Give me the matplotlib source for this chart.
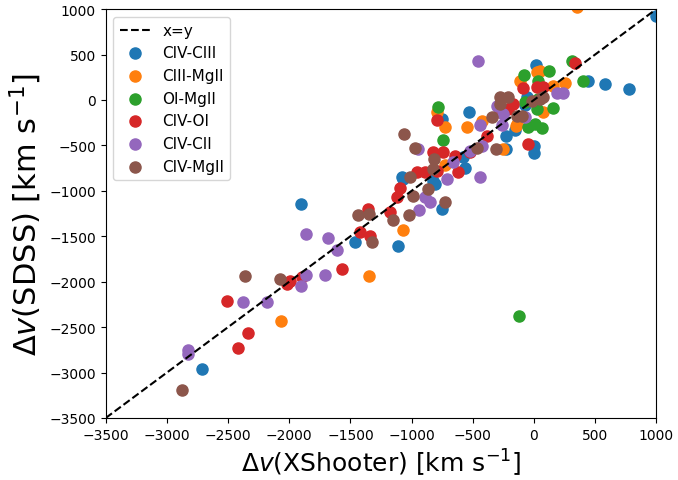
import matplotlib
matplotlib.use("Agg")
import matplotlib.pyplot as plt
import numpy as np

labels = ["CIV-CIII", "CIII-MgII", "OI-MgII", "CIV-OI", "CIV-CII", "CIV-MgII"]

civ_ciii_x = [1000, 777, 581, 442, 16, -532, -229, -155, 0, 0, -229, -57, -74, -564, -753,
              -1080, -1906, -1464, -1112, -753, -1071, -826, -810, -826, -2716, -581]
civ_ciii_y = [920, 121, 176, 209, 385, -132, -396, -330, -506, -583, -539, 33, -55, -748, -209,
              -847, -1144, -1562, -1606, -1199, -869, -891, -924, -781, -2959, -627]

ciii_mgii_x = [350, 49, 254, 155, 25, -115, -793, -728, -548, -147, 74, -254, -728, -1071,
               -1350, -2070, -139, -425]
ciii_mgii_y = [1020, 319, 187, 154, 308, 209, -132, -297, -297, -286, -132, -539, -715, -1430,
               -1936, -2431, -264, -231]

oi_mgii_x = [311, 123, 401, -82, 33, -785, -744, 155, -49, 8, 65, 25, -74, -123, 33]
oi_mgii_y = [429, 319, 209, 275, 209, -77, -440, -88, -297, -264, -308, -99, -22, -2376, 11]

civ_oi_x = [335, -90, 25, 74, -172, -213, -793, -384, -49, -826, -744, -646, -524, -957, -892,
            -622, -1358, -1178, -1121, -1096, -1423, -1342, -1571, -1996, -2020, -1898, -2511,
            -2340, -2421, -278, -793]
civ_oi_y = [407, 132, 143, 143, -44, -99, -220, -396, -484, -572, -572, -616, -572, -792, -792,
            -792, -1199, -1232, -1067, -968, -1452, -1496, -1859, -1991, -2024, -1947, -2211,
            -2563, -2728, -132, -781]

civ_cii_x = [-458, 188, 237, -303, -254, -74, -442, -262, -425, -524, -949, -663, -712, -442,
             -892, -851, -941, -1865, -1685, -1612, -1865, -1710, -1906, -2380, -2184, -2830, -2830]
civ_cii_y = [429, 77, 77, -66, -154, -187, -275, -275, -506, -561, -539, -682, -869, -847,
             -1067, -1122, -1210, -1474, -1518, -1650, -1925, -1925, -2046, -2222, -2222, -2750, -2794]

civ_mgii_x = [-278, -213, -16, 74, -344, -139, -1063, -973, -466, -311, -818, -1014, -826, -990,
              -867, -728, -1022, -1153, -1440, -1350, -1325, -2364, -2078, -2880, 49, -98, -278]
civ_mgii_y = [33, 33, -11, 33, -187, -176, -374, -528, -528, -539, -649, -847, -759, -1056,
              -979, -1122, -1265, -1320, -1265, -1254, -1562, -1936, -1969, -3190, 11, -176, -44]

series_x = [civ_ciii_x, ciii_mgii_x, oi_mgii_x, civ_oi_x, civ_cii_x, civ_mgii_x]
series_y = [civ_ciii_y, ciii_mgii_y, oi_mgii_y, civ_oi_y, civ_cii_y, civ_mgii_y]

ticks = list(range(-3500, 1001, 500))

fig = plt.figure(figsize=(6.78, 4.81), dpi=100)
ax = fig.add_axes([0.156, 0.129, 0.812, 0.850])

line = np.array([-3500, 1000])
ax.plot(line, line, 'k--', lw=1.5, label='x=y')
for xs, ys, lab in zip(series_x, series_y, labels):
    ax.scatter(xs, ys, s=64, label=lab)

ax.set_xlim(-3500, 1000)
ax.set_ylim(-3500, 1000)
ax.set_xticks(ticks)
ax.set_yticks(ticks)
ax.tick_params(labelsize=10)
ax.set_xlabel(r'$\Delta v$(XShooter) [km s$^{-1}$]', fontsize=18)
ax.set_ylabel(r'$\Delta v$(SDSS) [km s$^{-1}$]', fontsize=22)
ax.legend(loc='upper left', fontsize=11)

fig.savefig('out.png', dpi=100)
